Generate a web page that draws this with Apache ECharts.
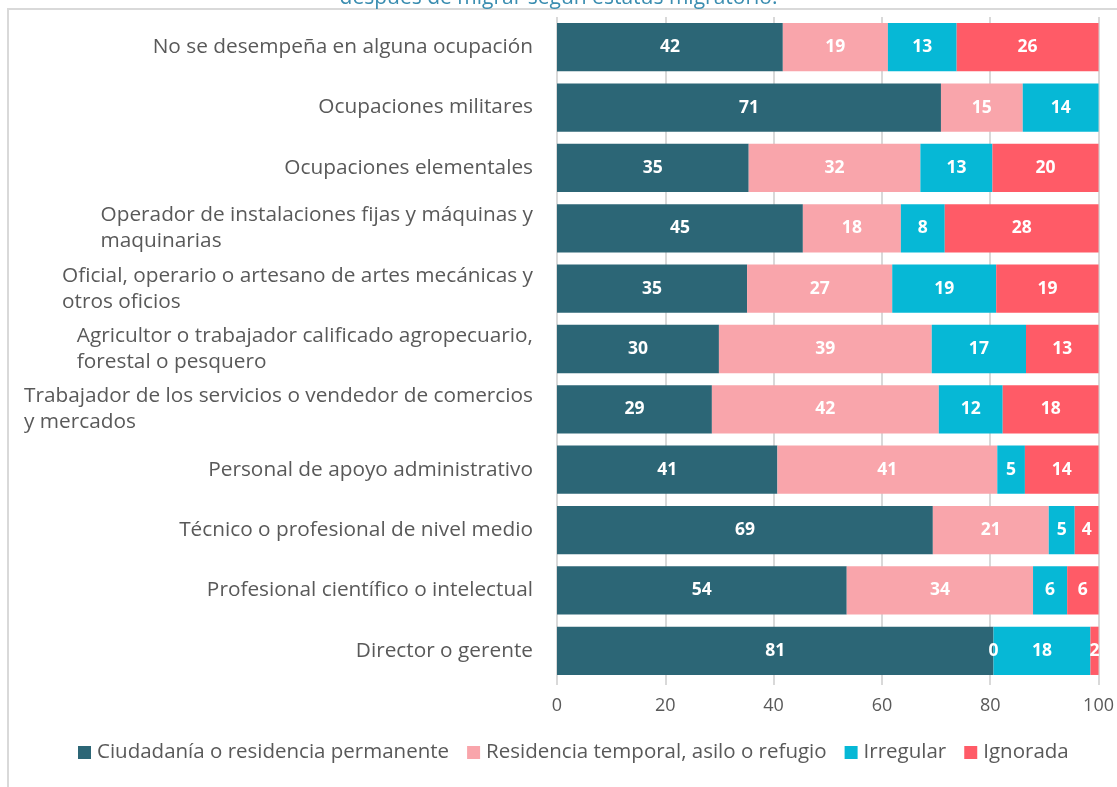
<!DOCTYPE html>
<html>
<head>
<meta charset="utf-8">
<script src="https://cdn.jsdelivr.net/npm/echarts@6/dist/echarts.min.js"></script>
<style>
  html, body { margin: 0; padding: 0; background: #fff; }
  #chart { width: 1117px; height: 787px; }
</style>
</head>
<body>
<div id="chart"></div>
<script>
// ocupaciones, de arriba hacia abajo
const categories = [
    'No se desempeña en alguna ocupación',
    'Ocupaciones militares',
    'Ocupaciones elementales',
    'Operador de instalaciones fijas y máquinas y\nmaquinarias',
    'Oficial, operario o artesano de artes mecánicas y\notros oficios',
    'Agricultor o trabajador calificado agropecuario,\nforestal o pesquero',
    'Trabajador de los servicios o vendedor de comercios\ny mercados',
    'Personal de apoyo administrativo',
    'Técnico o profesional de nivel medio',
    'Profesional científico o intelectual',
    'Director o gerente'
];

const seriesNames = [
    'Ciudadanía o residencia permanente',
    'Residencia temporal, asilo o refugio',
    'Irregular',
    'Ignorada'
];

const ciudadania = [41.7, 70.9, 35.4, 45.4, 35.1, 29.9, 28.6, 40.7, 69.4, 53.5, 80.6];
const temporal   = [19.4, 15.1, 31.7, 18.1, 26.8, 39.3, 41.9, 40.6, 21.4, 34.4, 0];
const irregular  = [12.7, 14.0, 13.3, 8.1, 19.2, 17.4, 11.8, 5.1, 4.8, 6.3, 17.9];
const ignorada   = [26.2, null, 19.6, 28.4, 18.9, 13.4, 17.7, 13.6, 4.4, 5.8, 1.5];

const xTicks = [0, 20, 40, 60, 80, 100];

const colors = ['#2c6676', '#f9a5ab', '#06b8d6', '#ff5b67'];
const txtFont = '"Open Sans", sans-serif';

const chart = echarts.init(document.getElementById('chart'));

const mkSeries = (name, data, color) => ({
    name: name,
    type: 'bar',
    stack: 'total',
    barCategoryGap: '20%',
    data: data,
    itemStyle: { color: color },
    label: {
        show: true,
        position: 'inside',
        color: '#fff',
        fontWeight: 'bold',
        fontSize: 17.5,
        fontFamily: txtFont,
        formatter: p => (p.value == null ? '' : Math.round(p.value))
    },
    emphasis: { disabled: true }
});

chart.setOption({
    animation: false,
    title: {
        text: 'después de migrar según estatus migratorio.',
        left: 'center',
        top: -17,
        textStyle: { color: '#3a8db0', fontSize: 21, fontWeight: 'normal', fontFamily: txtFont }
    },
    graphic: [{
        type: 'polyline',
        shape: { points: [[8, 787], [8, 9], [1117, 9]] },
        style: { stroke: '#d9d9d9', lineWidth: 2, fill: null },
        silent: true
    }],
    legend: {
        bottom: 19,
        left: 73,
        itemWidth: 13,
        itemHeight: 13,
        itemGap: 18,
        icon: 'rect',
        textStyle: { color: '#595959', fontSize: 20.5, fontFamily: txtFont, padding: [0, 0, 0, 1] },
        data: seriesNames
    },
    grid: { left: 557, right: 18, top: 17, bottom: 106, containLabel: false },
    xAxis: {
        type: 'value',
        min: 0,
        max: 100,
        interval: 20,
        axisLine: { show: false },
        axisTick: { show: true, length: 4, lineStyle: { color: '#d9d9d9', width: 2 } },
        splitLine: { show: true, lineStyle: { color: '#d9d9d9', width: 2 } },
        axisLabel: {
            color: '#595959',
            fontSize: 18,
            fontFamily: txtFont,
            margin: 16,
            customValues: xTicks
        }
    },
    yAxis: {
        type: 'category',
        inverse: true,
        data: categories,
        axisLine: { show: false },
        axisTick: { show: false },
        axisLabel: {
            margin: 24,
            align: 'right',
            color: '#595959',
            fontSize: 20.8,
            fontFamily: txtFont,
            lineHeight: 26,
            formatter: v => v.split('\n').map(s => '{l|' + s + '}').join('\n'),
            rich: {
                l: { align: 'left', color: '#595959', fontSize: 20.8, fontFamily: txtFont, lineHeight: 26 }
            }
        }
    },
    series: [
        mkSeries(seriesNames[0], ciudadania, colors[0]),
        mkSeries(seriesNames[1], temporal, colors[1]),
        mkSeries(seriesNames[2], irregular, colors[2]),
        mkSeries(seriesNames[3], ignorada, colors[3])
    ]
});
</script>
</body>
</html>
